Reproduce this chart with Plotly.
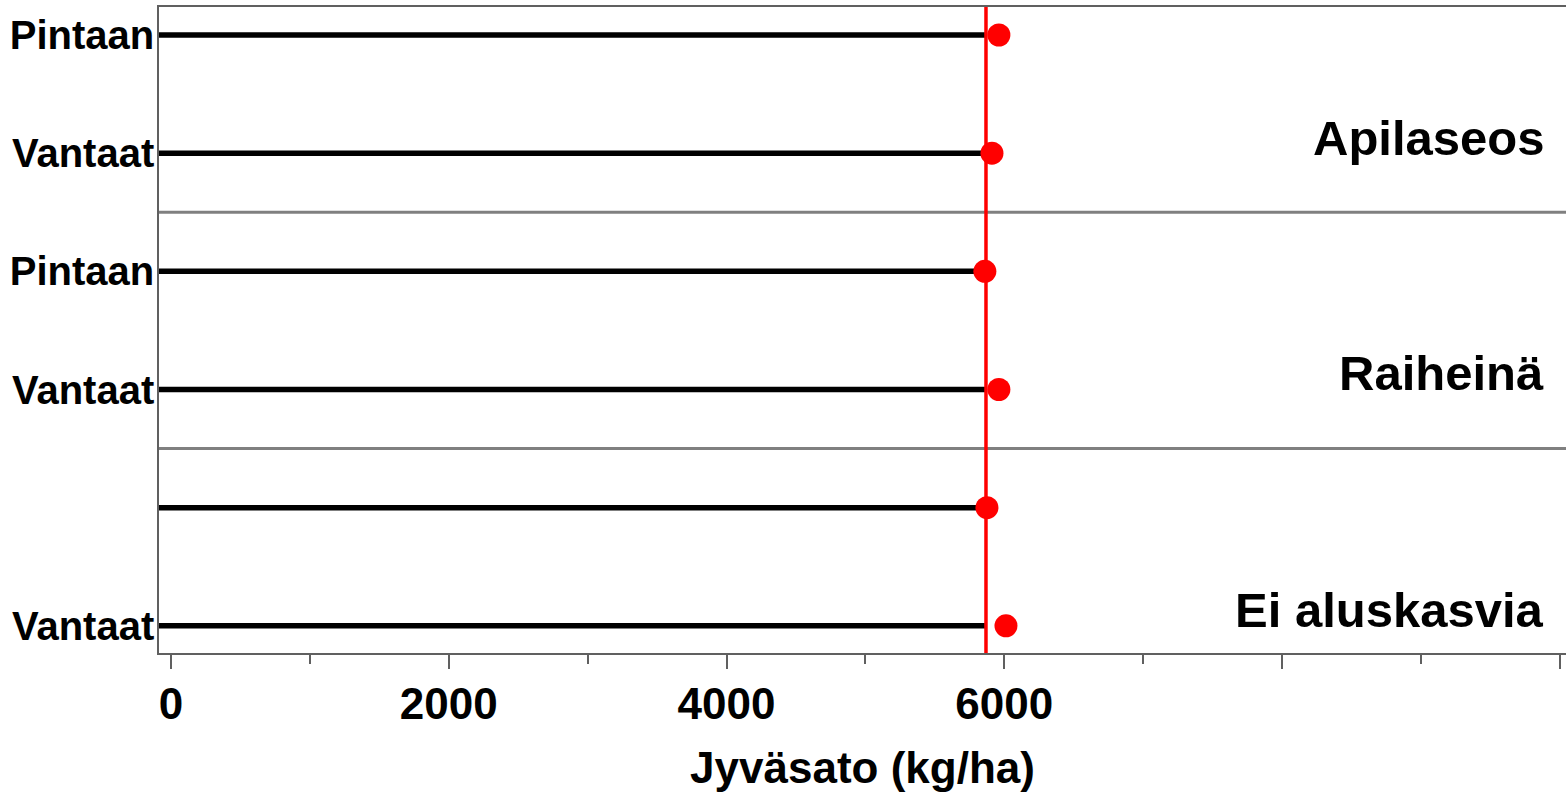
import plotly.graph_objects as go

# Data
row_labels = ["Pintaan", "Vantaat", "Pintaan", "Vantaat", "", "Vantaat"]
yields = [5961, 5911, 5860, 5961, 5875, 6012]
reference_value = 5868
groups = ["Apilaseos", "Raiheinä", "Ei aluskasvia"]
group_label_pos = [0.87, 2.86, 4.865]
separators = [1.5, 3.5]
x_tickvals = [0, 2000, 4000, 6000, 8000, 10000]
x_ticktext = ["0", "2000", "4000", "6000", "", ""]

X_MIN, X_MAX = -86, 10044
FONT = "Liberation Sans, Arial, sans-serif"

rows = list(range(len(row_labels)))
fig = go.Figure()

# black lines from axis start to reference value
for r in rows:
    fig.add_trace(go.Scatter(x=[X_MIN, reference_value], y=[r, r], mode="lines",
                             line=dict(color="black", width=5.5), showlegend=False,
                             hoverinfo="skip"))

# separators
for s in separators:
    fig.add_shape(type="line", xref="paper", x0=0, x1=1, y0=s, y1=s,
                  line=dict(color="#808080", width=3), layer="below")

# red reference line
fig.add_shape(type="line", x0=reference_value, x1=reference_value, yref="paper",
              y0=0, y1=1, line=dict(color="#ff0000", width=3.5))

fig.add_trace(go.Scatter(x=yields, y=rows, mode="markers",
                         marker=dict(color="#ff0000", size=23), showlegend=False))

for g, yp in zip(groups, group_label_pos):
    fig.add_annotation(x=9900, y=yp, text=g, showarrow=False, xanchor="right",
                       yanchor="middle",
                       font=dict(family=FONT, size=49, color="black", weight="bold"))

fig.update_layout(
    width=1566, height=792,
    margin=dict(l=159, r=0, t=7, b=139),
    plot_bgcolor="white", paper_bgcolor="white",
    xaxis=dict(range=[X_MIN, X_MAX], tickvals=x_tickvals, ticktext=x_ticktext,
               ticks="outside", ticklen=14, tickwidth=1.5, tickcolor="#606060",
               minor=dict(tickvals=[1000, 3000, 5000, 7000, 9000], ticks="outside",
                          ticklen=9, tickwidth=1.5, tickcolor="#606060"),
               showline=True, linecolor="#606060", linewidth=1.5, mirror=True,
               showgrid=False, zeroline=False, ticklabelstandoff=-3,
               tickfont=dict(family=FONT, size=44, color="black", weight="bold"),
               title=dict(text="Jyväsato (kg/ha)", standoff=26,
                          font=dict(family=FONT, size=44, color="black", weight="bold"))),
    yaxis=dict(range=[5.23, -0.237], tickvals=rows, ticktext=row_labels,
               ticks="", showline=True, linecolor="#606060", linewidth=1.5,
               showgrid=False, zeroline=False, ticklabelstandoff=-5,
               tickfont=dict(family=FONT, size=40, color="black", weight="bold")),
)

fig.write_html("out.html", config={"displayModeBar": False},
               post_script="document.body.style.margin='0';document.body.style.padding='0';")
